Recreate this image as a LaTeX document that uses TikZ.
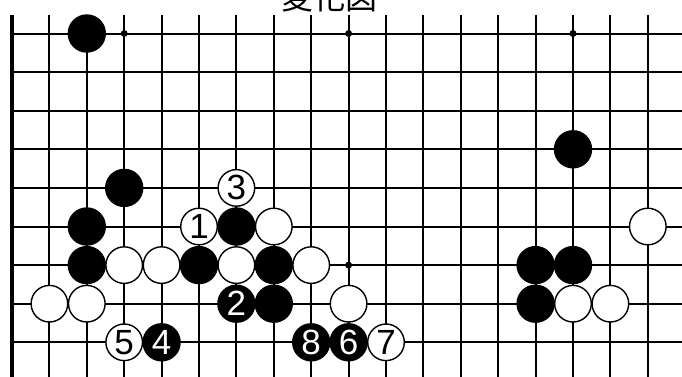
\documentclass[tikz,border=0pt]{standalone}
\usepackage{fontspec}
\setmainfont{Liberation Sans}
\newfontfamily\cjk{Noto Sans CJK JP}
\begin{document}
\begin{tikzpicture}[x=37.4pt,y=-38.6pt,
  gridline/.style={line width=2pt},
  edgeline/.style={line width=3.2pt},
  starpt/.style={circle,fill=black,inner sep=0pt,minimum size=7pt},
  numfont/.style={font=\fontsize{35}{35}\selectfont},
  bstone/.style={circle,fill=black,inner sep=0pt,minimum size=38.4pt,text=white,numfont},
  wstone/.style={circle,draw=black,fill=white,line width=1.4pt,inner sep=0pt,minimum size=36.6pt,numfont}]
\useasboundingbox (-12pt,33.5pt) rectangle (670pt,-342.5pt);
\clip (-12pt,33.5pt) rectangle (670pt,-342.5pt);
% caption (cropped at the top, as in the reference)
\node[font=\cjk\fontsize{32}{32}\selectfont,anchor=base,inner sep=0pt] (cap) at (8.5,-0.62) {変化図};
% grid
\foreach \c in {1,...,18} \draw[gridline] (\c,-0.48) -- (\c,9.2);
\foreach \r in {0,...,9} \draw[gridline] (0,\r) -- (18.5,\r);
\draw[edgeline] (0,-0.48) -- (0,9.2);
% star points
\node[starpt] (s1) at (3,0) {};
\node[starpt] (s2) at (9,0) {};
\node[starpt] (s3) at (15,0) {};
\node[starpt] (s4) at (9,6) {};
% black stones
\node[bstone] (b1) at (2,0) {};
\node[bstone] (b2) at (15,3) {};
\node[bstone] (b3) at (3,4) {};
\node[bstone] (b4) at (2,5) {};
\node[bstone] (b5) at (6,5) {};
\node[bstone] (b6) at (2,6) {};
\node[bstone] (b7) at (5,6) {};
\node[bstone] (b8) at (7,6) {};
\node[bstone] (b9) at (7,7) {};
\node[bstone] (b10) at (14,6) {};
\node[bstone] (b11) at (15,6) {};
\node[bstone] (b12) at (14,7) {};
\node[bstone] (m2) at (6,7) {2};
\node[bstone] (m4) at (4,8) {4};
\node[bstone] (m6) at (9,8) {6};
\node[bstone] (m8) at (8,8) {8};
% white stones
\node[wstone] (w1) at (7,5) {};
\node[wstone] (w2) at (3,6) {};
\node[wstone] (w3) at (4,6) {};
\node[wstone] (w4) at (6,6) {};
\node[wstone] (w5) at (8,6) {};
\node[wstone] (w6) at (1,7) {};
\node[wstone] (w7) at (2,7) {};
\node[wstone] (w8) at (9,7) {};
\node[wstone] (w9) at (17,5) {};
\node[wstone] (w10) at (15,7) {};
\node[wstone] (w11) at (16,7) {};
\node[wstone] (m1) at (5,5) {1};
\node[wstone] (m3) at (6,4) {3};
\node[wstone] (m5) at (3,8) {5};
\node[wstone] (m7) at (10,8) {7};
\end{tikzpicture}
\end{document}
